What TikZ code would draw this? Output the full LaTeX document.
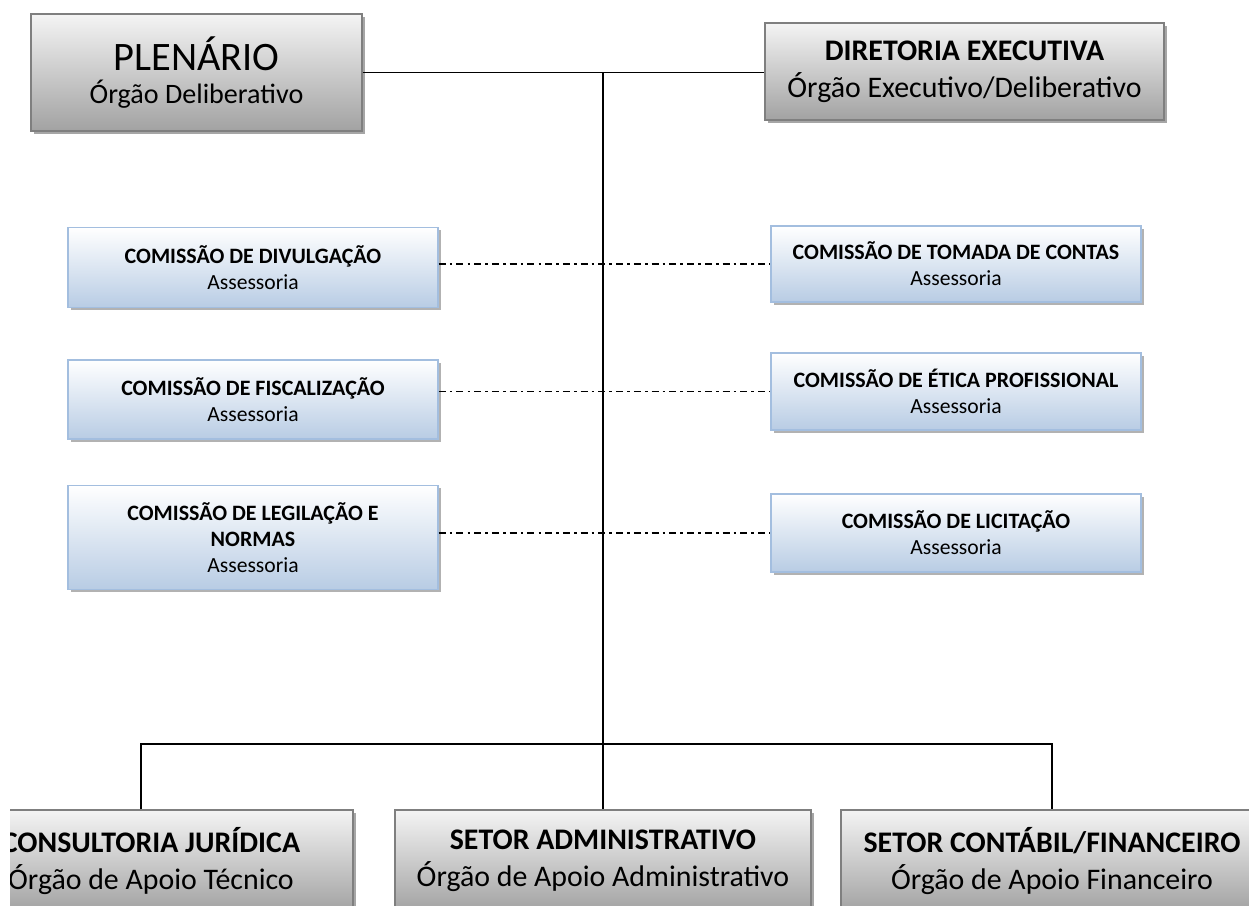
\documentclass[tikz,border=0pt]{standalone}
\usepackage{fontspec}
\setmainfont{Carlito}
\usetikzlibrary{shadows}

\definecolor{cinzaTopo}{HTML}{F4F4F4}
\definecolor{cinzaBase}{HTML}{A2A2A2}
\definecolor{cinzaBorda}{HTML}{7F7F7F}
\definecolor{azulBase}{HTML}{B8CCE4}
\definecolor{azulBorda}{HTML}{A3BEDF}

\begin{document}
\begin{tikzpicture}[
        x=0.02cm, y=-0.02cm,
        tam/.style 2 args={minimum width=#1*0.02cm, minimum height=#2*0.02cm},
        orgao/.style={draw=cinzaBorda, line width=0.8pt,
          top color=cinzaTopo, bottom color=cinzaBase,
          drop shadow={shadow xshift=1.6pt, shadow yshift=-1.6pt, fill=black!35, opacity=1},
          align=center, inner sep=0pt},
        comissao/.style={draw=azulBorda, line width=0.8pt,
          top color=white, bottom color=azulBase,
          drop shadow={shadow xshift=1.6pt, shadow yshift=-1.6pt, fill=black!30, opacity=1},
          align=center, inner sep=0pt, tam={370}{#1},
          font=\fontsize{12.3}{14.8}\selectfont},
        ligacao/.style={line width=1pt},
        assessoria/.style={line width=0.8pt, dash pattern=on 4pt off 2.3pt on 1.5pt off 2.3pt}
      ]
        % 裁剪画布
        \clip (0,0) rectangle (1249,906);
        \fill[white] (0,0) rectangle (1249,906);
        % 上方两个机构
        \node[orgao, tam={331}{117}, font=\fontsize{16}{19}\selectfont] (plen) at (196.5,72.5)
          {{\fontsize{23}{23}\selectfont PLENÁRIO}\\{Órgão Deliberativo}};
        \node[orgao, tam={399}{97}, font=\fontsize{17}{21}\selectfont] (dir) at (964.5,71.5)
          {{\bfseries DIRETORIA EXECUTIVA}\\{Órgão Executivo/Deliberativo}};
        % 左侧委员会
        \node[comissao=80] (div) at (253,267.5)
          {{\bfseries\fontsize{12.5}{14.8}\selectfont COMISSÃO DE DIVULGAÇÃO}\\{Assessoria}};
        \node[comissao=79] (fisc) at (253,399.5)
          {{\bfseries\fontsize{12.5}{14.8}\selectfont COMISSÃO DE FISCALIZAÇÃO}\\{Assessoria}};
        \node[comissao=104] (leg) at (253,537.5)
          {{\bfseries\fontsize{12.5}{14.8}\selectfont COMISSÃO DE LEGILAÇÃO E}\\
           {\bfseries\fontsize{12.5}{14.8}\selectfont NORMAS}\\{Assessoria}};
        % 右侧委员会
        \node[comissao=76] (tom) at (956,264)
          {{\bfseries\fontsize{12.5}{14.8}\selectfont COMISSÃO DE TOMADA DE CONTAS}\\{Assessoria}};
        \node[comissao=77] (etica) at (956,391.5)
          {{\bfseries\fontsize{12.5}{14.8}\selectfont COMISSÃO DE ÉTICA PROFISSIONAL}\\{Assessoria}};
        \node[comissao=78] (lic) at (956,533)
          {{\bfseries\fontsize{12.5}{14.8}\selectfont COMISSÃO DE LICITAÇÃO}\\{Assessoria}};
        % 下方三个部门
        \begin{scope}
          \clip (10,0) rectangle (1249,906);
          \node[orgao, tam={404}{102}, font=\fontsize{17}{21}\selectfont] (cons) at (151,861)
            {{\bfseries CONSULTORIA JURÍDICA}\\{Órgão de Apoio Técnico}};
        \end{scope}
        \node[orgao, tam={416}{102}, font=\fontsize{17}{21}\selectfont] (adm) at (603,861)
          {{\bfseries SETOR ADMINISTRATIVO}\\{Órgão de Apoio Administrativo}};
        \node[orgao, tam={422}{102}, font=\fontsize{17}{21}\selectfont] (cont) at (1052,861)
          {{\bfseries SETOR CONTÁBIL/FINANCEIRO}\\{Órgão de Apoio Financeiro}};
        % 绘制连线
        \coordinate (barra) at (603,744);
        \coordinate (desce) at ([xshift=-0.2cm]cons.north);
        \draw[ligacao] (plen.east) -- (plen.east -| dir.west);
        \draw[ligacao] (plen.east -| adm.north) -- (adm.north);
        \draw[ligacao] (desce) |- (barra) -| (cont.north);
        % 虚线（顾问关系）
        \draw[assessoria] (tom.west -| div.east) -- (tom.west);
        \draw[assessoria] (etica.west -| fisc.east) -- (etica.west);
        \draw[assessoria] (lic.west -| leg.east) -- (lic.west);
      \end{tikzpicture}
\end{document}
